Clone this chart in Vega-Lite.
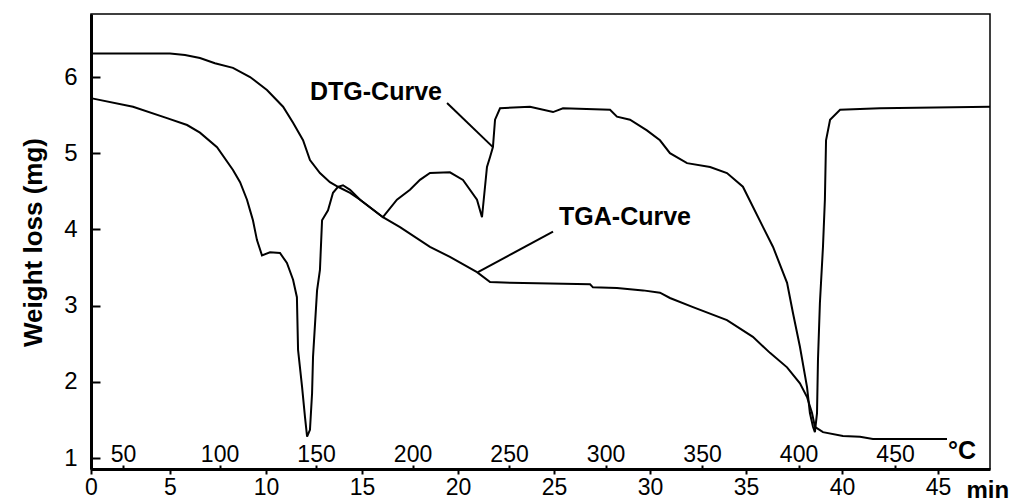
{
  "$schema": "https://vega.github.io/schema/vega-lite/v6.json",
  "width": 899,
  "height": 455,
  "autosize": {"type": "none"},
  "padding": {"left": 91, "top": 14, "right": 21, "bottom": 33},
  "config": {
    "font": "Liberation Sans",
    "view": {"stroke": "#000", "strokeWidth": 1.5},
    "axis": {"grid": false, "domainColor": "#000", "tickColor": "#000", "labelColor": "#000", "titleColor": "#000"}
  },
  "datasets": {
    "curves": [
      {"curve": "TGA", "i": 0, "t": 0.06, "w": 6.31},
      {"curve": "TGA", "i": 1, "t": 2.47, "w": 6.31},
      {"curve": "TGA", "i": 2, "t": 5.0, "w": 6.31},
      {"curve": "TGA", "i": 3, "t": 5.78, "w": 6.29},
      {"curve": "TGA", "i": 4, "t": 6.56, "w": 6.25},
      {"curve": "TGA", "i": 5, "t": 7.34, "w": 6.18},
      {"curve": "TGA", "i": 6, "t": 8.28, "w": 6.12},
      {"curve": "TGA", "i": 7, "t": 9.17, "w": 6.0},
      {"curve": "TGA", "i": 8, "t": 10.05, "w": 5.83},
      {"curve": "TGA", "i": 9, "t": 10.89, "w": 5.61},
      {"curve": "TGA", "i": 10, "t": 11.41, "w": 5.4},
      {"curve": "TGA", "i": 11, "t": 11.93, "w": 5.17},
      {"curve": "TGA", "i": 12, "t": 12.29, "w": 4.91},
      {"curve": "TGA", "i": 13, "t": 12.81, "w": 4.74},
      {"curve": "TGA", "i": 14, "t": 13.33, "w": 4.62},
      {"curve": "TGA", "i": 15, "t": 13.75, "w": 4.56},
      {"curve": "TGA", "i": 16, "t": 14.38, "w": 4.48},
      {"curve": "TGA", "i": 17, "t": 14.9, "w": 4.39},
      {"curve": "TGA", "i": 18, "t": 16.09, "w": 4.16},
      {"curve": "TGA", "i": 19, "t": 16.98, "w": 4.03},
      {"curve": "TGA", "i": 20, "t": 18.54, "w": 3.77},
      {"curve": "TGA", "i": 21, "t": 19.58, "w": 3.64},
      {"curve": "TGA", "i": 22, "t": 20.99, "w": 3.44},
      {"curve": "TGA", "i": 23, "t": 21.67, "w": 3.31},
      {"curve": "TGA", "i": 24, "t": 22.71, "w": 3.3},
      {"curve": "TGA", "i": 25, "t": 26.88, "w": 3.28},
      {"curve": "TGA", "i": 26, "t": 27.03, "w": 3.24},
      {"curve": "TGA", "i": 27, "t": 28.28, "w": 3.23},
      {"curve": "TGA", "i": 28, "t": 29.64, "w": 3.2},
      {"curve": "TGA", "i": 29, "t": 30.52, "w": 3.17},
      {"curve": "TGA", "i": 30, "t": 31.04, "w": 3.1},
      {"curve": "TGA", "i": 31, "t": 32.24, "w": 2.98},
      {"curve": "TGA", "i": 32, "t": 34.01, "w": 2.81},
      {"curve": "TGA", "i": 33, "t": 35.36, "w": 2.59},
      {"curve": "TGA", "i": 34, "t": 36.25, "w": 2.38},
      {"curve": "TGA", "i": 35, "t": 37.14, "w": 2.19},
      {"curve": "TGA", "i": 36, "t": 37.81, "w": 1.98},
      {"curve": "TGA", "i": 37, "t": 38.18, "w": 1.8},
      {"curve": "TGA", "i": 38, "t": 38.44, "w": 1.59},
      {"curve": "TGA", "i": 39, "t": 38.59, "w": 1.41},
      {"curve": "TGA", "i": 40, "t": 39.01, "w": 1.34},
      {"curve": "TGA", "i": 41, "t": 40.05, "w": 1.29},
      {"curve": "TGA", "i": 42, "t": 40.94, "w": 1.28},
      {"curve": "TGA", "i": 43, "t": 41.61, "w": 1.25},
      {"curve": "TGA", "i": 44, "t": 45.47, "w": 1.25},
      {"curve": "DTG", "i": 0, "t": 0.06, "w": 5.72},
      {"curve": "DTG", "i": 1, "t": 2.66, "w": 5.61},
      {"curve": "DTG", "i": 2, "t": 4.81, "w": 5.46},
      {"curve": "DTG", "i": 3, "t": 5.89, "w": 5.37},
      {"curve": "DTG", "i": 4, "t": 6.56, "w": 5.27},
      {"curve": "DTG", "i": 5, "t": 7.45, "w": 5.08},
      {"curve": "DTG", "i": 6, "t": 8.28, "w": 4.78},
      {"curve": "DTG", "i": 7, "t": 8.65, "w": 4.62},
      {"curve": "DTG", "i": 8, "t": 9.01, "w": 4.39},
      {"curve": "DTG", "i": 9, "t": 9.17, "w": 4.25},
      {"curve": "DTG", "i": 10, "t": 9.32, "w": 4.12},
      {"curve": "DTG", "i": 11, "t": 9.53, "w": 3.86},
      {"curve": "DTG", "i": 12, "t": 9.79, "w": 3.66},
      {"curve": "DTG", "i": 13, "t": 10.21, "w": 3.7},
      {"curve": "DTG", "i": 14, "t": 10.73, "w": 3.69},
      {"curve": "DTG", "i": 15, "t": 11.09, "w": 3.56},
      {"curve": "DTG", "i": 16, "t": 11.41, "w": 3.34},
      {"curve": "DTG", "i": 17, "t": 11.61, "w": 3.11},
      {"curve": "DTG", "i": 18, "t": 11.67, "w": 2.42},
      {"curve": "DTG", "i": 19, "t": 11.88, "w": 1.93},
      {"curve": "DTG", "i": 20, "t": 12.03, "w": 1.54},
      {"curve": "DTG", "i": 21, "t": 12.14, "w": 1.28},
      {"curve": "DTG", "i": 22, "t": 12.29, "w": 1.37},
      {"curve": "DTG", "i": 23, "t": 12.4, "w": 1.85},
      {"curve": "DTG", "i": 24, "t": 12.45, "w": 2.33},
      {"curve": "DTG", "i": 25, "t": 12.66, "w": 3.2},
      {"curve": "DTG", "i": 26, "t": 12.81, "w": 3.47},
      {"curve": "DTG", "i": 27, "t": 12.92, "w": 4.12},
      {"curve": "DTG", "i": 28, "t": 13.23, "w": 4.25},
      {"curve": "DTG", "i": 29, "t": 13.49, "w": 4.48},
      {"curve": "DTG", "i": 30, "t": 13.75, "w": 4.56},
      {"curve": "DTG", "i": 31, "t": 14.01, "w": 4.58},
      {"curve": "DTG", "i": 32, "t": 14.38, "w": 4.52},
      {"curve": "DTG", "i": 33, "t": 14.9, "w": 4.39},
      {"curve": "DTG", "i": 34, "t": 16.09, "w": 4.16},
      {"curve": "DTG", "i": 35, "t": 16.82, "w": 4.39},
      {"curve": "DTG", "i": 36, "t": 17.5, "w": 4.52},
      {"curve": "DTG", "i": 37, "t": 18.02, "w": 4.65},
      {"curve": "DTG", "i": 38, "t": 18.54, "w": 4.74},
      {"curve": "DTG", "i": 39, "t": 19.58, "w": 4.75},
      {"curve": "DTG", "i": 40, "t": 20.26, "w": 4.65},
      {"curve": "DTG", "i": 41, "t": 20.99, "w": 4.39},
      {"curve": "DTG", "i": 42, "t": 21.25, "w": 4.16},
      {"curve": "DTG", "i": 43, "t": 21.51, "w": 4.82},
      {"curve": "DTG", "i": 44, "t": 21.67, "w": 4.95},
      {"curve": "DTG", "i": 45, "t": 21.82, "w": 5.08},
      {"curve": "DTG", "i": 46, "t": 21.93, "w": 5.44},
      {"curve": "DTG", "i": 47, "t": 22.19, "w": 5.59},
      {"curve": "DTG", "i": 48, "t": 23.75, "w": 5.61},
      {"curve": "DTG", "i": 49, "t": 24.95, "w": 5.54},
      {"curve": "DTG", "i": 50, "t": 25.47, "w": 5.59},
      {"curve": "DTG", "i": 51, "t": 27.92, "w": 5.57},
      {"curve": "DTG", "i": 52, "t": 28.28, "w": 5.48},
      {"curve": "DTG", "i": 53, "t": 28.96, "w": 5.44},
      {"curve": "DTG", "i": 54, "t": 29.84, "w": 5.3},
      {"curve": "DTG", "i": 55, "t": 30.52, "w": 5.17},
      {"curve": "DTG", "i": 56, "t": 31.04, "w": 5.0},
      {"curve": "DTG", "i": 57, "t": 31.93, "w": 4.87},
      {"curve": "DTG", "i": 58, "t": 33.13, "w": 4.82},
      {"curve": "DTG", "i": 59, "t": 34.01, "w": 4.74},
      {"curve": "DTG", "i": 60, "t": 34.84, "w": 4.56},
      {"curve": "DTG", "i": 61, "t": 35.89, "w": 4.03},
      {"curve": "DTG", "i": 62, "t": 36.41, "w": 3.77},
      {"curve": "DTG", "i": 63, "t": 37.14, "w": 3.3},
      {"curve": "DTG", "i": 64, "t": 37.45, "w": 2.9},
      {"curve": "DTG", "i": 65, "t": 37.81, "w": 2.46},
      {"curve": "DTG", "i": 66, "t": 38.18, "w": 1.93},
      {"curve": "DTG", "i": 67, "t": 38.33, "w": 1.59},
      {"curve": "DTG", "i": 68, "t": 38.49, "w": 1.41},
      {"curve": "DTG", "i": 69, "t": 38.59, "w": 1.34},
      {"curve": "DTG", "i": 70, "t": 38.7, "w": 1.59},
      {"curve": "DTG", "i": 71, "t": 38.75, "w": 2.29},
      {"curve": "DTG", "i": 72, "t": 38.85, "w": 3.03},
      {"curve": "DTG", "i": 73, "t": 39.01, "w": 3.77},
      {"curve": "DTG", "i": 74, "t": 39.11, "w": 4.39},
      {"curve": "DTG", "i": 75, "t": 39.17, "w": 5.17},
      {"curve": "DTG", "i": 76, "t": 39.38, "w": 5.44},
      {"curve": "DTG", "i": 77, "t": 39.9, "w": 5.57},
      {"curve": "DTG", "i": 78, "t": 41.98, "w": 5.59},
      {"curve": "DTG", "i": 79, "t": 47.71, "w": 5.61}
    ],
    "pointers": [
      {"t": 19.43, "w": 5.66, "t2": 21.82, "w2": 5.08},
      {"t": 24.95, "w": 3.97, "t2": 21.04, "w2": 3.44}
    ],
    "notes": [
      {"label": "DTG-Curve", "t": 15.73, "w": 5.8},
      {"label": "TGA-Curve", "t": 28.7, "w": 4.16}
    ],
    "temp": [
      {"label": "°C", "temp": 484.7, "w": 1.09}
    ]
  },
  "layer": [
    {
      "layer": [
        {
          "data": {"name": "curves"},
          "mark": {"type": "line", "color": "#000", "strokeWidth": 2},
          "encoding": {
            "x": {
              "field": "t", "type": "quantitative",
              "scale": {"domain": [0, 5, 47.71], "range": [0, 79, 899], "nice": false, "zero": false},
              "axis": {
                "orient": "bottom", "values": [0, 5, 10, 15, 20, 25, 30, 35, 40, 45], "format": "d",
                "title": "min", "tickSize": 5, "tickWidth": 2, "domainWidth": 3,
                "labelFontSize": 23, "labelPadding": 2, "labelFlush": false,
                "titleFontSize": 24, "titleFontWeight": "bold", "titleX": 875, "titleY": 28,
                "titleAlign": "left", "titleBaseline": "alphabetic"
              }
            },
            "y": {
              "field": "w", "type": "quantitative",
              "scale": {"domain": [0.856, 6.827], "nice": false, "zero": false},
              "axis": {
                "values": [1, 2, 3, 4, 5, 6], "format": "d", "title": "Weight loss (mg)",
                "tickSize": -9, "tickWidth": 2, "domainWidth": 3,
                "labelFontSize": 24, "labelPadding": 23,
                "titleFontSize": 26, "titleFontWeight": "bold",
                "titleX": -58, "titleY": 228, "titleAngle": 270,
                "titleAlign": "center", "titleBaseline": "middle"
              }
            },
            "detail": {"field": "curve"},
            "order": {"field": "i", "type": "quantitative"}
          }
        },
        {
          "data": {"name": "pointers"},
          "mark": {"type": "rule", "color": "#000", "strokeWidth": 2},
          "encoding": {
            "x": {"field": "t", "type": "quantitative"},
            "x2": {"field": "t2"},
            "y": {"field": "w", "type": "quantitative"},
            "y2": {"field": "w2"}
          }
        },
        {
          "data": {"name": "notes"},
          "mark": {"type": "text", "fontSize": 25, "fontWeight": "bold", "align": "center", "baseline": "middle", "color": "#000"},
          "encoding": {
            "x": {"field": "t", "type": "quantitative"},
            "y": {"field": "w", "type": "quantitative"},
            "text": {"field": "label"}
          }
        }
      ]
    },
    {
      "data": {"name": "temp"},
      "mark": {"type": "text", "fontSize": 25, "fontWeight": "bold", "align": "center", "baseline": "middle", "color": "#000"},
      "encoding": {
        "x": {
          "field": "temp", "type": "quantitative",
          "scale": {"domain": [33.4, 499.2], "nice": false, "zero": false},
          "axis": {
            "orient": "top", "offset": -455, "values": [50, 100, 150, 200, 250, 300, 350, 400, 450], "format": "d",
            "domain": false, "tickSize": 4, "tickWidth": 2, "labelFontSize": 23, "labelPadding": -1,
            "labelFlush": false, "title": null
          }
        },
        "y": {"field": "w", "type": "quantitative", "scale": {"domain": [0.856, 6.827], "nice": false, "zero": false}},
        "text": {"field": "label"}
      }
    }
  ],
  "resolve": {"scale": {"x": "independent"}, "axis": {"x": "independent"}}
}
